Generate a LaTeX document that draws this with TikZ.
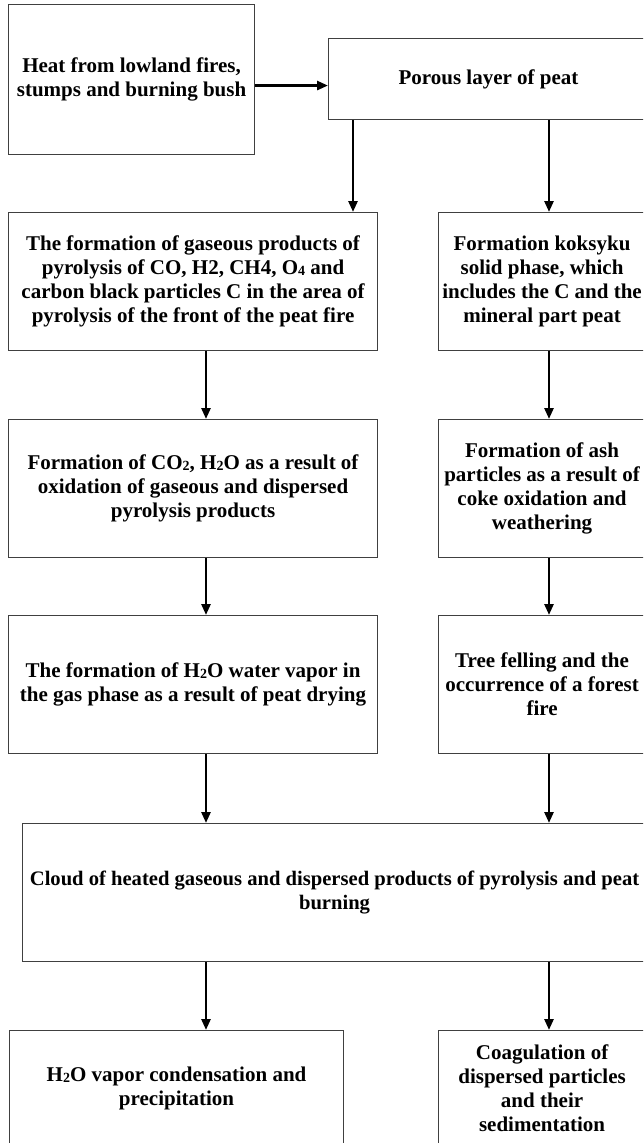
\documentclass[tikz,border=0pt]{standalone}
\usepackage{fontspec}
\setmainfont{Liberation Serif}
\usetikzlibrary{arrows.meta}
% small digit used for chemical indices
\newcommand{\lowdig}[1]{\raisebox{-0.6pt}{\fontsize{14}{14}\selectfont #1}}
\begin{document}
\begin{tikzpicture}[x=1pt,y=-1pt,
  box/.style={draw=black!75, line width=1.1pt, anchor=north west, align=center,
    inner sep=0pt, font=\bfseries\fontsize{21}{24}\selectfont},
  arr/.style={draw=black, line width=2.6pt, -{Triangle[length=11pt,width=9pt]}}]
\useasboundingbox (0,0) rectangle (643,1143);
\clip (0,0) rectangle (643,1143);

% top row
\node[box, minimum width=246pt, minimum height=150pt] (b1) at (8,4)
  {Heat from lowland fires,\\stumps and burning bush};
\node[box, minimum width=320pt, minimum height=81pt] (b2) at (328,38)
  {Porous layer of peat};

% left and right columns
\node[box, minimum width=369pt, minimum height=138pt] (b3) at (8,212)
  {The formation of gaseous products of\\pyrolysis of CO, H2, CH4, O\lowdig{4} and\\carbon black particles C in the area of\\pyrolysis of the front of the peat fire};
\node[box, minimum width=207pt, minimum height=138pt] (b4) at (438,212)
  {Formation koksyku\\solid phase, which\\includes the C and the\\mineral part peat};
\node[box, minimum width=369pt, minimum height=138pt] (b5) at (8,419)
  {Formation of CO\lowdig{2}, H\lowdig{2}O as a result of\\oxidation of gaseous and dispersed\\pyrolysis products};
\node[box, minimum width=207pt, minimum height=138pt] (b6) at (438,419)
  {Formation of ash\\particles as a result of\\coke oxidation and\\weathering};
\node[box, minimum width=369pt, minimum height=138pt] (b7) at (8,615)
  {The formation of H\lowdig{2}O water vapor in\\the gas phase as a result of peat drying};
\node[box, minimum width=207pt, minimum height=138pt] (b8) at (438,615)
  {Tree felling and the\\occurrence of a forest\\fire};

% merged cloud box
\node[box, minimum width=624pt, minimum height=138pt,
      font=\bfseries\fontsize{20.6}{24}\selectfont] (b9) at (22,823)
  {Cloud of heated gaseous and dispersed products of pyrolysis and peat\\burning};

% bottom row
\node[box, minimum width=334pt, minimum height=116pt] (b10) at (9,1030)
  {H\lowdig{2}O vapor condensation and\\precipitation};
\node[box, minimum width=207pt, minimum height=116pt] (b11) at (438,1030)
  {Coagulation of\\dispersed particles\\and their\\sedimentation};

% connectors
\draw[arr] ([yshift=-6pt]b1.east) -- ([yshift=-6pt]b1.east -| b2.west);
\draw[arr] ([xshift=25pt]b2.south west) -- ([xshift=25pt]b2.south west |- b3.north);
\draw[arr] ([xshift=111pt]b4.north west |- b2.south) -- ([xshift=111pt]b4.north west);

\draw[arr] ([xshift=198pt]b3.south west) -- ([xshift=198pt]b5.north west);
\draw[arr] ([xshift=111pt]b4.south west) -- ([xshift=111pt]b6.north west);
\draw[arr] ([xshift=198pt]b5.south west) -- ([xshift=198pt]b7.north west);
\draw[arr] ([xshift=111pt]b6.south west) -- ([xshift=111pt]b8.north west);
\draw[arr] ([xshift=198pt]b7.south west) -- ([xshift=198pt]b7.south west |- b9.north);
\draw[arr] ([xshift=111pt]b8.south west) -- ([xshift=111pt]b8.south west |- b9.north);

\draw[arr] ([xshift=197pt]b10.north west |- b9.south) -- ([xshift=197pt]b10.north west);
\draw[arr] ([xshift=111pt]b11.north west |- b9.south) -- ([xshift=111pt]b11.north west);
\end{tikzpicture}
\end{document}
